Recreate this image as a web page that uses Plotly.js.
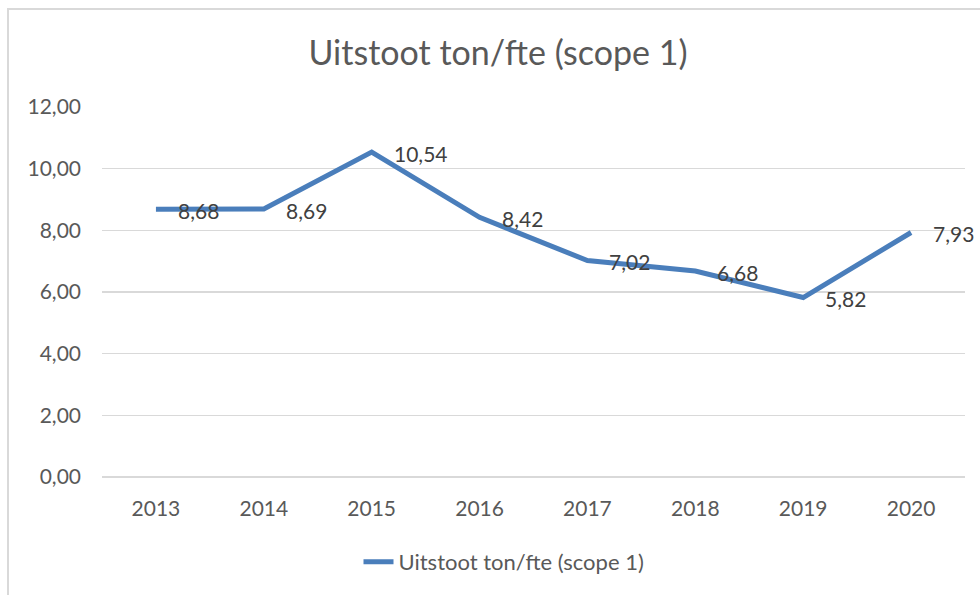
<!DOCTYPE html>
<html>
<head>
<meta charset="utf-8">
<script src="https://cdn.plot.ly/plotly-3.0.1.min.js"></script>
<style>
  html, body { margin: 0; padding: 0; background: #fff; }
  #wrap { position: relative; width: 980px; height: 595px; overflow: hidden; }
  #frame { position: absolute; left: 7px; top: 8px; width: 1000px; height: 700px; border: 2px solid #d9d9d9; box-sizing: border-box; pointer-events: none; }
  #chart { position: absolute; left: 0; top: 0; width: 980px; height: 595px; }
</style>
</head>
<body>
<div id="wrap">
  <div id="chart"></div>
  <div id="frame"></div>
</div>
<script>
const years = ['2013', '2014', '2015', '2016', '2017', '2018', '2019', '2020'];
const values = [8.68, 8.69, 10.54, 8.42, 7.02, 6.68, 5.82, 7.93];
const yTicks = [0, 2, 4, 6, 8, 10, 12];
const yTickLabels = ['0,00', '2,00', '4,00', '6,00', '8,00', '10,00', '12,00'];
const seriesName = 'Uitstoot ton/fte (scope 1)';
const chartTitle = 'Uitstoot ton/fte (scope 1)';

const FONT = 'Lato, "Open Sans", sans-serif';
const TXT = '#595959';

const fmt = v => v.toFixed(2).replace('.', ',');

const trace = {
  x: years,
  y: values,
  type: 'scatter',
  mode: 'lines',
  name: seriesName,
  line: { color: '#4a7ebb', width: 5 },
  hoverinfo: 'none'
};

// category axis: annotation x given as category serial number
const annotations = years.map((yr, i) => ({
  x: i, y: values[i], xref: 'x', yref: 'y',
  text: fmt(values[i]),
  showarrow: false,
  xanchor: 'left', yanchor: 'middle',
  xshift: 20, yshift: -1,
  font: { family: FONT, size: 21, color: '#404040' }
}));

const layout = {
  width: 980, height: 595,
  margin: { l: 102, r: 15, t: 107, b: 118 },
  paper_bgcolor: '#ffffff',
  plot_bgcolor: '#ffffff',
  title: {
    text: chartTitle,
    x: 498 / 980, xref: 'container', xanchor: 'center',
    y: 1 - 53 / 595, yref: 'container', yanchor: 'middle',
    font: { family: FONT, size: 34, color: TXT }
  },
  font: { family: FONT, color: TXT },
  xaxis: {
    type: 'category',
    range: [-0.5, 7.5],
    showgrid: false,
    zeroline: false,
    showline: false,
    ticks: '',
    ticklabelstandoff: 17,
    tickfont: { family: FONT, size: 21, color: TXT },
    fixedrange: true
  },
  yaxis: {
    range: [0, 12],
    tickvals: yTicks,
    ticktext: yTickLabels,
    showgrid: true,
    gridcolor: '#d9d9d9',
    gridwidth: 1.5,
    zeroline: true,
    zerolinecolor: '#d9d9d9',
    zerolinewidth: 1.5,
    showline: false,
    ticks: '',
    ticklabelstandoff: 20,
    tickfont: { family: FONT, size: 21, color: TXT },
    fixedrange: true
  },
  showlegend: true,
  legend: {
    orientation: 'h',
    xref: 'container', yref: 'container',
    x: 504 / 980, xanchor: 'center',
    y: 1 - 562 / 595, yanchor: 'middle',
    font: { family: FONT, size: 22, color: TXT },
    bgcolor: 'rgba(0,0,0,0)'
  },
  annotations: annotations
};

Plotly.newPlot('chart', [trace], layout, { displayModeBar: false, staticPlot: true });
</script>
</body>
</html>
